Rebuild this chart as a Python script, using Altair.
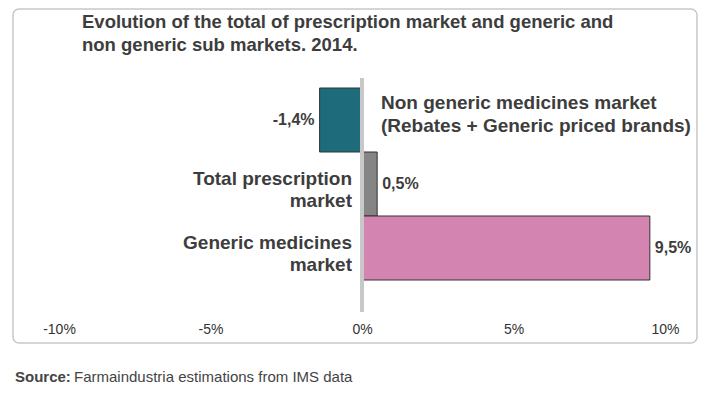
import altair as alt
import pandas as pd

categories = [
    "Non generic medicines market\n(Rebates + Generic priced brands)",
    "Total prescription\nmarket",
    "Generic medicines\nmarket",
]
values = [-1.4, 0.5, 9.5]
bar_colors = ["#1e6b7b", "#858585", "#d484b0"]
tick_values = [-10, -5, 0, 5, 10]

title_text = "Evolution of the total of prescription market and generic and\nnon generic sub markets. 2014."
source_bold = "Source:"
source_text = "Farmaindustria estimations from IMS data"

TXT = "#3d3d3d"
FONT = "Liberation Sans"

df = pd.DataFrame({
    "category": categories,
    "value": values,
    "color": bar_colors,
    "label": [f"{v:.1f}".replace(".", ",") + "%" for v in values],
})
one = pd.DataFrame({"z": [0]})

y_enc = alt.Y("category:N", sort=categories, axis=None,
              scale=alt.Scale(range=[80, 272], paddingInner=0, paddingOuter=0))
x_scale = alt.Scale(domain=[-10, 10], range=[51, 657], nice=False)

box = alt.Chart(one).mark_rect(fillOpacity=0, stroke="#c8c8c8", strokeWidth=1.5, cornerRadius=6).encode(
    x=alt.value(5), x2=alt.value(689), y=alt.value(1), y2=alt.value(335)
)

bars = alt.Chart(df).mark_bar(stroke="#333333", strokeWidth=1).encode(
    y=y_enc,
    x=alt.X("value:Q", scale=x_scale,
            axis=alt.Axis(values=tick_values, labelExpr="datum.value + '%'", title=None,
                          domain=False, ticks=False, grid=False, labelPadding=8, labelFlush=False,
                          labelFontSize=14, labelColor="#333333", labelFont=FONT)),
    color=alt.Color("color:N", scale=None),
)

zero = alt.Chart(one).mark_rule(color="#c8c8c8", strokeWidth=4).encode(
    x=alt.datum(0), y=alt.value(70), y2=alt.value(304)
)

cat_pos = alt.Chart(df).transform_filter("datum.value >= 0").mark_text(
    align="right", baseline="middle", dx=-10, dy=-5, lineBreak="\n", lineHeight=22,
    fontSize=19, fontWeight="bold", color=TXT, font=FONT
).encode(x=alt.datum(0), y=y_enc, text="category:N")

cat_neg = alt.Chart(df).transform_filter("datum.value < 0").mark_text(
    align="left", baseline="middle", dx=19, dy=-17, lineBreak="\n", lineHeight=23,
    fontSize=19, fontWeight="bold", color=TXT, font=FONT
).encode(x=alt.datum(0), y=y_enc, text="category:N")

val_pos = alt.Chart(df).transform_filter("datum.value >= 0").mark_text(
    align="left", baseline="middle", dx=5, fontSize=16, fontWeight="bold", color=TXT, font=FONT
).encode(x=alt.X("value:Q", scale=x_scale), y=y_enc, text="label:N")

val_neg = alt.Chart(df).transform_filter("datum.value < 0").mark_text(
    align="right", baseline="middle", dx=-5, fontSize=16, fontWeight="bold", color=TXT, font=FONT
).encode(x=alt.X("value:Q", scale=x_scale), y=y_enc, text="label:N")

title = alt.Chart(one).mark_text(
    align="left", baseline="top", lineBreak="\n", lineHeight=23,
    fontSize=18.5, fontWeight="bold", color=TXT, font=FONT
).encode(x=alt.value(74), y=alt.value(5), text=alt.value(title_text))

src1 = alt.Chart(one).mark_text(
    align="left", baseline="middle", fontSize=15, fontWeight="bold", color="#444444", font=FONT
).encode(x=alt.value(7), y=alt.value(369), text=alt.value(source_bold))

src2 = alt.Chart(one).mark_text(
    align="left", baseline="middle", fontSize=15, color="#444444", font=FONT
).encode(x=alt.value(66), y=alt.value(369), text=alt.value(source_text))

chart = alt.layer(box, bars, zero, cat_pos, cat_neg, val_pos, val_neg, title, src1, src2).properties(
    width=690, height=306,
    padding={"left": 0, "top": 0, "right": 0, "bottom": 73},
    autosize=alt.AutoSizeParams(type="none"),
).configure_view(stroke=None)

chart.save("out.html", embed_options={"renderer": "svg", "actions": False})
